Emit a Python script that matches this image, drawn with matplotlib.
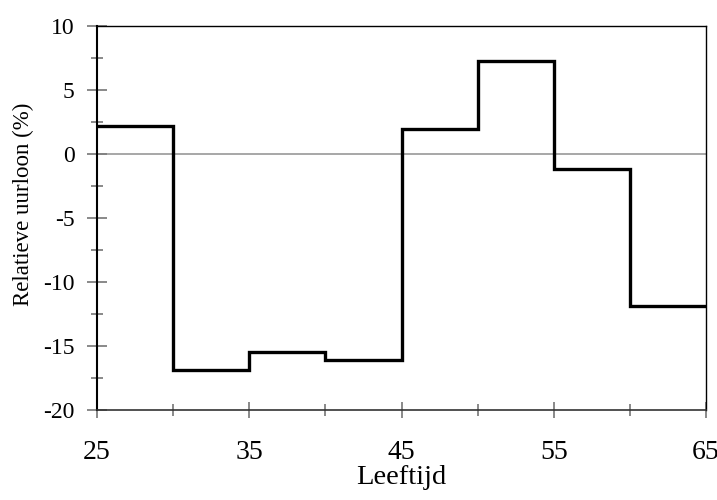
import matplotlib
matplotlib.use("Agg")
import matplotlib.pyplot as plt
from matplotlib.ticker import MultipleLocator

edges = [25, 30, 35, 40, 45, 50, 55, 60, 65]
values = [2.2, -16.9, -15.5, -16.1, 1.9, 7.25, -1.2, -11.85]
x_ticks = [25, 35, 45, 55, 65]
y_ticks = [-20, -15, -10, -5, 0, 5, 10]

plt.rcParams['font.family'] = ['Liberation Serif', 'DejaVu Serif']
plt.rcParams['axes.unicode_minus'] = False

fig = plt.figure(figsize=(7.17, 5.0), dpi=100)
ax = fig.add_axes([0.1353, 0.18, 0.9847 - 0.1353, 0.9486 - 0.18])

ax.axhline(0, color='#a0a0a0', lw=1.3, zorder=1)
ax.stairs(values, edges, baseline=None, color='black', lw=2.4, zorder=3)

ax.set_xlim(25, 65)
ax.set_ylim(-20, 10)
ax.set_xticks(x_ticks)
ax.set_yticks(y_ticks)
ax.xaxis.set_minor_locator(MultipleLocator(5))
ax.yaxis.set_minor_locator(MultipleLocator(2.5))

ax.tick_params(axis='y', which='major', direction='inout', length=14, width=1.3,
               color='#808080', labelsize=17, pad=9)
ax.tick_params(axis='y', which='minor', direction='inout', length=9, width=1.3,
               color='#808080')
ax.tick_params(axis='x', which='major', direction='inout', length=11, width=1.3,
               color='#808080', labelsize=20, pad=16)
ax.tick_params(axis='x', which='minor', direction='inout', length=9, width=1.3,
               color='#808080')

ax.spines['left'].set_linewidth(1.5)
ax.spines['left'].set_color('black')
ax.spines['bottom'].set_linewidth(1.2)
ax.spines['bottom'].set_color('#333333')
for s in ['top', 'right']:
    ax.spines[s].set_linewidth(1.0)
    ax.spines[s].set_color('black')

ax.set_xlabel('Leeftijd', fontsize=20.5, labelpad=0)
ax.set_ylabel('Relatieve uurloon (%)', fontsize=16.5)
ax.yaxis.set_label_coords(-0.104, 0.535)

fig.savefig('out.png', dpi=100)
